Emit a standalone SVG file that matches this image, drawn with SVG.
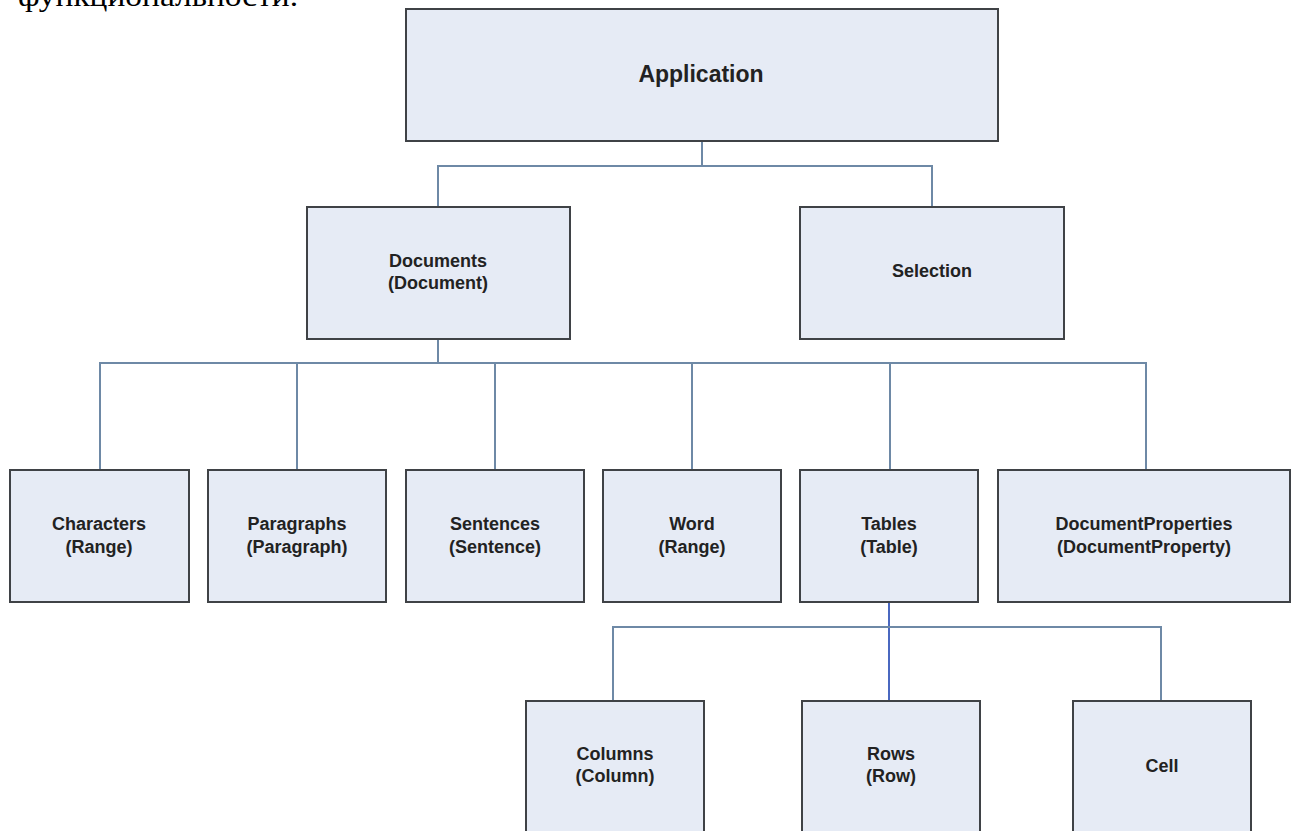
<svg xmlns="http://www.w3.org/2000/svg" width="1299" height="831" viewBox="0 0 1299 831">
<style>
.box{fill:#e6ebf5;stroke:#3f4246;stroke-width:2}
.t{font-family:"Liberation Sans",Arial,sans-serif;font-weight:bold;font-size:18px;fill:#222;text-anchor:middle}
.big{font-size:23px}
.c{fill:none;stroke:#6e89a6;stroke-width:2}
.cb{fill:none;stroke:#4a68c0;stroke-width:2}
.top{font-family:"Liberation Serif","Times New Roman",serif;font-size:30px;fill:#000}
</style>
<rect width="1299" height="831" fill="#fff"/>
<text class="top" x="18" y="6" textLength="280" lengthAdjust="spacingAndGlyphs">функциональности.</text>
<g id="connectors">
<polyline class="c" points="702,141 702,166"/>
<polyline class="c" points="438,207 438,166 932,166 932,207"/>
<polyline class="c" points="438,339 438,363"/>
<polyline class="c" points="100,470 100,363 1146,363 1146,470"/>
<polyline class="c" points="297,363 297,470"/>
<polyline class="c" points="495,363 495,470"/>
<polyline class="c" points="692,363 692,470"/>
<polyline class="c" points="890,363 890,470"/>
<polyline class="cb" points="889,603 889,701"/>
<polyline class="c" points="613,701 613,627 1161,627 1161,701"/>
</g>
<g id="application"><rect class="box" x="406" y="9" width="592" height="132"/><text class="t big" x="701" y="82">Application</text></g>
<g id="documents"><rect class="box" x="307" y="207" width="263" height="132"/><text class="t" x="438" y="267">Documents</text><text class="t" x="438" y="289">(Document)</text></g>
<g id="selection"><rect class="box" x="800" y="207" width="264" height="132"/><text class="t" x="932" y="277">Selection</text></g>
<g id="characters"><rect class="box" x="10" y="470" width="179" height="132"/><text class="t" x="99" y="530">Characters</text><text class="t" x="99" y="553">(Range)</text></g>
<g id="paragraphs"><rect class="box" x="208" y="470" width="178" height="132"/><text class="t" x="297" y="530">Paragraphs</text><text class="t" x="297" y="553">(Paragraph)</text></g>
<g id="sentences"><rect class="box" x="406" y="470" width="178" height="132"/><text class="t" x="495" y="530">Sentences</text><text class="t" x="495" y="553">(Sentence)</text></g>
<g id="word"><rect class="box" x="603" y="470" width="178" height="132"/><text class="t" x="692" y="530">Word</text><text class="t" x="692" y="553">(Range)</text></g>
<g id="tables"><rect class="box" x="800" y="470" width="178" height="132"/><text class="t" x="889" y="530">Tables</text><text class="t" x="889" y="553">(Table)</text></g>
<g id="documentproperties"><rect class="box" x="998" y="470" width="292" height="132"/><text class="t" x="1144" y="530">DocumentProperties</text><text class="t" x="1144" y="553">(DocumentProperty)</text></g>
<g id="columns"><rect class="box" x="526" y="701" width="178" height="140"/><text class="t" x="615" y="760">Columns</text><text class="t" x="615" y="782">(Column)</text></g>
<g id="rows"><rect class="box" x="802" y="701" width="178" height="140"/><text class="t" x="891" y="760">Rows</text><text class="t" x="891" y="782">(Row)</text></g>
<g id="cell"><rect class="box" x="1073" y="701" width="178" height="140"/><text class="t" x="1162" y="772">Cell</text></g>
</svg>
